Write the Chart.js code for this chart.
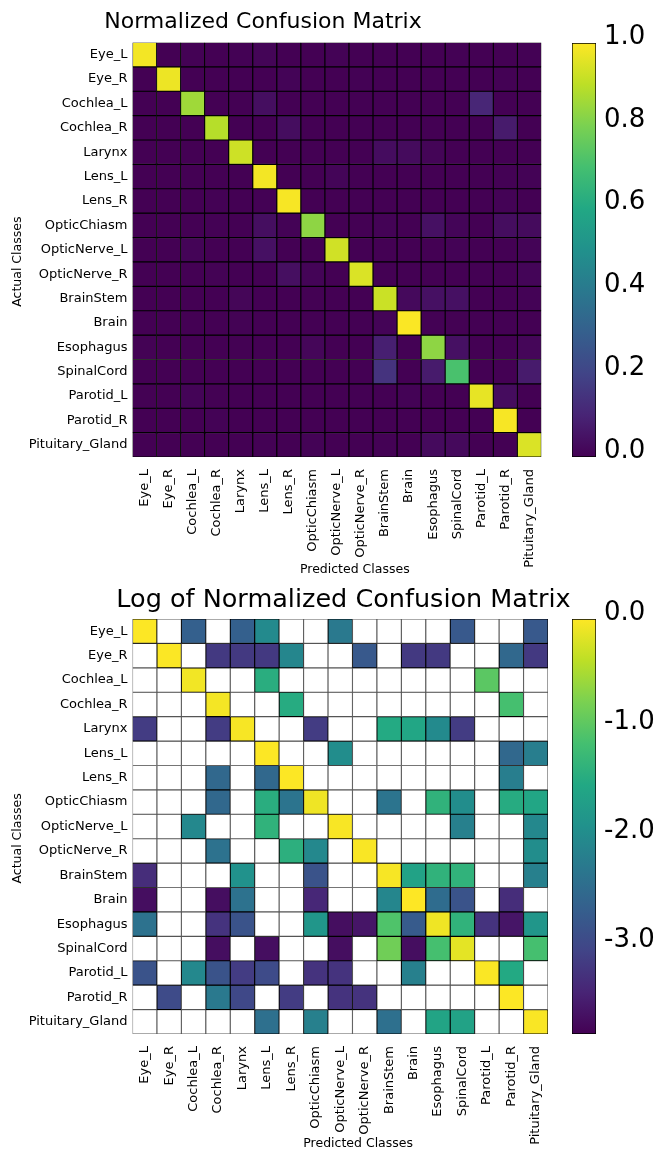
<!DOCTYPE html>
<html>
<head>
<meta charset="utf-8">
<script src="https://cdn.jsdelivr.net/npm/chart.js@4.4.1/dist/chart.umd.min.js"></script>
<style>
  body { margin: 0; background: #fff; }
  #wrap { position: relative; width: 659px; height: 1151px; overflow: hidden; background: #fff; }
  canvas { position: absolute; }
</style>
</head>
<body>
<div id="wrap">
  <canvas id="cm" width="571" height="580" style="left:-22px;top:0px"></canvas>
  <canvas id="logCm" width="688" height="571" style="left:0px;top:580px"></canvas>
  <canvas id="cmBar" width="99" height="490" style="left:560px;top:0px"></canvas>
  <canvas id="logBar" width="99" height="571" style="left:560px;top:580px"></canvas>
</div>
<script>
const classes = ['Eye_L', 'Eye_R', 'Cochlea_L', 'Cochlea_R', 'Larynx', 'Lens_L', 'Lens_R',
  'OpticChiasm', 'OpticNerve_L', 'OpticNerve_R', 'BrainStem', 'Brain', 'Esophagus',
  'SpinalCord', 'Parotid_L', 'Parotid_R', 'Pituitary_Gland'];

const normTicks = [0, 0.2, 0.4, 0.6, 0.8, 1.0];
const logTicks = [0, -1, -2, -3];
const normRange = [0, 1];
const logRange = [-3.8, 0];

// one row per actual class, columns = predicted class (row normalized)
const eyeL = [0.985, 0, 0.0023, 0, 0.0023, 0.01, 0, 0, 0.0055, 0, 0, 0, 0, 0.0018, 0, 0, 0.0018];
const eyeR = [0, 0.975, 0, 0.00068, 0.00068, 0.00068, 0.0085, 0, 0, 0.0018, 0, 0.00068, 0.00068, 0, 0, 0.003, 0.00068];
const cochleaL = [0, 0, 0.855, 0, 0, 0.037, 0, 0, 0, 0, 0, 0, 0, 0, 0.105, 0, 0];
const cochleaR = [0, 0, 0, 0.89, 0, 0, 0.034, 0, 0, 0, 0, 0, 0, 0, 0, 0.074, 0];
const larynx = [0.00074, 0, 0, 0.00074, 0.925, 0, 0, 0.00074, 0, 0, 0.032, 0.028, 0.01, 0.00074, 0, 0, 0];
const lensL = [0, 0, 0, 0, 0, 0.985, 0, 0, 0.011, 0, 0, 0, 0, 0, 0, 0.003, 0.0065];
const lensR = [0, 0, 0, 0.003, 0, 0.003, 0.99, 0, 0, 0, 0, 0, 0, 0, 0, 0.0065, 0];
const opticChiasm = [0, 0, 0, 0.003, 0, 0.037, 0.0046, 0.83, 0, 0, 0.0046, 0, 0.044, 0.011, 0, 0.034, 0.028];
const opticNerveL = [0, 0, 0.0093, 0, 0, 0.044, 0, 0, 0.93, 0, 0, 0, 0, 0.007, 0, 0, 0.0093];
const opticNerveR = [0, 0, 0, 0.0043, 0, 0, 0.04, 0.0093, 0, 0.945, 0, 0, 0, 0, 0, 0, 0.011];
const brainStem = [0.00048, 0, 0, 0, 0.013, 0, 0, 0.0015, 0, 0, 0.92, 0.024, 0.044, 0.044, 0, 0, 0.007];
const brain = [0.00022, 0, 0, 0.00022, 0.0043, 0, 0, 0.00041, 0, 0, 0.0085, 0.995, 0.0035, 0.0015, 0, 0.00048, 0];
const esophagus = [0.0043, 0, 0, 0.00058, 0.0015, 0, 0, 0.0155, 0.00022, 0.00026, 0.087, 0.0019, 0.83, 0.044, 0.00058, 0.00026, 0.0155];
const spinalCord = [0, 0, 0, 0.00022, 0, 0.00022, 0, 0, 0.00022, 0, 0.148, 0.00022, 0.074, 0.71, 0, 0, 0.074];
const parotidL = [0.0015, 0, 0.0093, 0.0015, 0.00074, 0.00115, 0, 0.00058, 0.00058, 0, 0, 0.007, 0, 0, 0.965, 0.031, 0];
const parotidR = [0, 0.00115, 0, 0.0055, 0.00105, 0, 0.00074, 0, 0.00058, 0.00058, 0, 0, 0, 0, 0, 0.99, 0];
const pituitary = [0, 0, 0, 0, 0, 0.0039, 0, 0.007, 0, 0, 0.0039, 0, 0.026, 0.024, 0, 0, 0.945];

const rows = [eyeL, eyeR, cochleaL, cochleaR, larynx, lensL, lensR, opticChiasm, opticNerveL,
  opticNerveR, brainStem, brain, esophagus, spinalCord, parotidL, parotidR, pituitary];

const FONT = 'DejaVu Sans';
const viridis = ['#440154', '#482475', '#414487', '#355f8d', '#2a788e', '#21918c',
  '#22a884', '#44bf70', '#7ad151', '#bddf26', '#fde725'];

function rgb(h) {
  return [1, 3, 5].map(i => parseInt(h.slice(i, i + 2), 16));
}
function cmap(t) {
  t = Math.min(1, Math.max(0, t));
  const p = t * (viridis.length - 1);
  const i = Math.min(Math.floor(p), viridis.length - 2);
  const f = p - i;
  const a = rgb(viridis[i]), b = rgb(viridis[i + 1]);
  const c = a.map((v, k) => Math.round(v + (b[k] - v) * f));
  return `rgb(${c[0]},${c[1]},${c[2]})`;
}

function heatDatasets(valueOf, range, emptyFill, emptyBorder) {
  return rows.map((row, r) => ({
    data: row.map(() => [r, r + 1]),
    backgroundColor: row.map(v => {
      const x = valueOf(v);
      return x === null ? emptyFill : cmap((x - range[0]) / (range[1] - range[0]));
    }),
    borderColor: row.map(v => valueOf(v) === null ? emptyBorder : '#000'),
    borderWidth: 0.9,
    borderSkipped: false,
    grouped: false,
    barPercentage: 1,
    categoryPercentage: 1
  }));
}

// axis titles sit a little off-centre in the original, spaces nudge them
const xTitle = '         Predicted Classes';
const yTitle = 'Actual Classes      ';

function heatOptions(o) {
  const opts = {
    responsive: false,
    animation: false,
    layout: { padding: { left: 0, right: 1, top: 0, bottom: 0 } },
    plugins: {
      legend: { display: false },
      tooltip: { enabled: false },
      title: {
        display: true, text: o.title, fullSize: true, color: '#000',
        font: { family: FONT, size: o.titleSize, weight: 'normal' },
        padding: o.titlePad
      }
    },
    scales: {
      x: {
        type: 'category', labels: classes,
        grid: { display: false }, border: { display: false },
        ticks: { autoSkip: false, maxRotation: 90, minRotation: 90, padding: 4, color: '#000',
          font: { family: FONT, size: 13 } },
        title: { display: true, text: xTitle, color: '#000',
          font: { family: FONT, size: 12.5 }, padding: { top: 0, bottom: o.xTitlePad } },
        afterFit: s => { s.height = o.xHeight; }
      },
      y: {
        type: 'linear', min: 0, max: classes.length, reverse: true,
        grid: { display: false, drawTicks: false }, border: { display: false },
        afterBuildTicks: s => { s.ticks = classes.map((_, i) => ({ value: i + 0.5 })); },
        ticks: { autoSkip: false, padding: 5, color: '#000', font: { family: FONT, size: 13 },
          callback: (v, i) => classes[i] },
        title: { display: true, text: yTitle, color: '#000',
          font: { family: FONT, size: 12.5 }, padding: { top: o.yTitlePad, bottom: 0 } },
        afterFit: s => { s.width = o.yWidth; }
      }
    }
  };
  if (o.rightSpace) {
    // empty box on the right so the title centres over the matrix
    opts.scales.yr = {
      type: 'linear', position: 'right',
      grid: { display: false, drawTicks: false }, border: { display: false },
      ticks: { display: false },
      afterFit: s => { s.width = o.rightSpace; }
    };
  }
  return opts;
}

function colorbar(id, range, ticks, pad) {
  new Chart(document.getElementById(id), {
    type: 'bar',
    data: {
      labels: [''],
      datasets: [{
        data: [[range[0], range[1]]],
        backgroundColor: c => {
          const a = c.chart.chartArea;
          if (!a) return null;
          const g = c.chart.ctx.createLinearGradient(0, a.bottom, 0, a.top);
          viridis.forEach((col, i) => g.addColorStop(i / (viridis.length - 1), col));
          return g;
        },
        borderColor: '#000', borderWidth: 1, borderSkipped: false,
        barPercentage: 1, categoryPercentage: 1
      }]
    },
    options: {
      responsive: false,
      animation: false,
      layout: { padding: pad },
      plugins: { legend: { display: false }, tooltip: { enabled: false } },
      scales: {
        x: { display: false },
        y: {
          position: 'right', min: range[0], max: range[1],
          grid: { display: false, drawTicks: false }, border: { display: false },
          afterBuildTicks: s => { s.ticks = ticks.map(v => ({ value: v })); },
          ticks: { padding: 8, labelOffset: -6, color: '#000', font: { family: FONT, size: 26 },
            callback: v => v.toFixed(1) },
          afterFit: s => { s.width = 63; }
        }
      }
    }
  });
}

new Chart(document.getElementById('cm'), {
  type: 'bar',
  data: { labels: classes, datasets: heatDatasets(v => v, normRange, '#fff', '#555') },
  options: heatOptions({
    title: 'Normalized Confusion Matrix', titleSize: 22,
    titlePad: { top: 8.8, bottom: 7.3 },
    xHeight: 123, xTitlePad: 3, yWidth: 154.5, yTitlePad: 32.5
  })
});
colorbar('cmBar', normRange, normTicks, { left: 12, right: 0, top: 43, bottom: 33 });

new Chart(document.getElementById('logCm'), {
  type: 'bar',
  data: { labels: classes, datasets: heatDatasets(v => v > 0 ? Math.log10(v) : null, logRange, '#fff', '#555') },
  options: heatOptions({
    title: 'Log of Normalized Confusion Matrix', titleSize: 25.5,
    titlePad: { top: 4.7, bottom: 3.7 },
    xHeight: 117, xTitlePad: 0, yWidth: 132.5, yTitlePad: 10.5, rightSpace: 139
  })
});
colorbar('logBar', logRange, logTicks, { left: 12, right: 0, top: 39, bottom: 117 });
</script>
</body>
</html>
